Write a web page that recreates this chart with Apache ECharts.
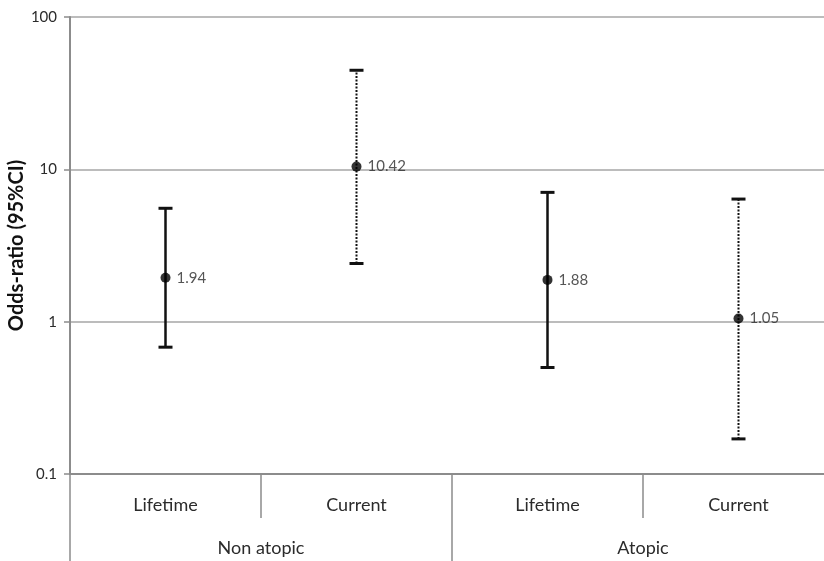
<!DOCTYPE html>
<html>
<head>
<meta charset="utf-8">
<script src="https://cdn.jsdelivr.net/npm/echarts@6/dist/echarts.min.js"></script>
<style>
  html, body { margin: 0; padding: 0; background: #fff; }
  #chart { width: 824px; height: 561px; }
</style>
</head>
<body>
<div id="chart"></div>
<script>
// categories (lower level) and groups (upper level)
const categories = ['Lifetime', 'Current', 'Lifetime', 'Current'];
const groups = ['Non atopic', 'Atopic'];

// odds ratio and 95% CI
const oddsRatio = [1.94, 10.42, 1.88, 1.05];
const ciLower = [0.68, 2.41, 0.50, 0.17];
const ciUpper = [5.55, 44.7, 7.06, 6.38];

const textColor = '#2b2b2b';
const fontFamily = 'Lato, "Open Sans", sans-serif';

const chart = echarts.init(document.getElementById('chart'), null, { renderer: 'canvas' });

// error bars drawn from the CI arrays
function renderErrorBar(params, api) {
  var idx = api.value(0);
  var lo = api.coord([idx, api.value(1)]);
  var hi = api.coord([idx, api.value(2)]);
  var dotted = categories[idx] === 'Current';
  var capHalf = 7;
  var lineStyle = {
    stroke: '#111',
    lineWidth: dotted ? 2 : 2.5,
    lineDash: dotted ? [2, 1.5] : null
  };
  var capStyle = { stroke: '#111', lineWidth: 3 };
  return {
    type: 'group',
    children: [
      { type: 'line', shape: { x1: lo[0], y1: lo[1], x2: hi[0], y2: hi[1] }, style: lineStyle },
      { type: 'line', shape: { x1: hi[0] - capHalf, y1: hi[1], x2: hi[0] + capHalf, y2: hi[1] }, style: capStyle },
      { type: 'line', shape: { x1: lo[0] - capHalf, y1: lo[1], x2: lo[0] + capHalf, y2: lo[1] }, style: capStyle }
    ]
  };
}

const option = {
  animation: false,
  backgroundColor: '#fff',
  // plot runs past the right edge of the picture, like the reference
  grid: { left: 70, right: -10, top: 17, bottom: 87, containLabel: false, outerBoundsMode: 'none' },
  xAxis: [
    {
      type: 'category',
      position: 'bottom',
      data: categories,
      boundaryGap: true,
      axisLine: { show: true, lineStyle: { color: '#8c8c8c', width: 2 } },
      axisTick: { show: true, interval: 0, length: 44, lineStyle: { color: '#8c8c8c', width: 1.5 } },
      axisLabel: { interval: 0, margin: 22, fontSize: 18, color: textColor, fontFamily: fontFamily },
      splitLine: { show: false }
    },
    {
      type: 'category',
      position: 'bottom',
      data: groups,
      boundaryGap: true,
      axisLine: { show: false },
      axisTick: { show: true, interval: 0, length: 87, lineStyle: { color: '#8c8c8c', width: 1.5 } },
      axisLabel: { interval: 0, margin: 65, fontSize: 18, color: textColor, fontFamily: fontFamily },
      splitLine: { show: false }
    }
  ],
  yAxis: {
    type: 'log',
    logBase: 10,
    min: 0.1,
    max: 100,
    name: 'Odds-ratio (95%CI)',
    nameLocation: 'middle',
    nameGap: 43,
    nameMoveOverlap: false,
    nameTextStyle: { fontSize: 20, fontWeight: 'bold', color: '#111', fontFamily: fontFamily },
    axisLine: { show: true, lineStyle: { color: '#8c8c8c', width: 2 } },
    axisTick: { show: true, length: 6, lineStyle: { color: '#8c8c8c', width: 1.5 } },
    axisLabel: {
      margin: 13,
      fontSize: 15,
      color: textColor,
      fontFamily: fontFamily,
      formatter: function (v) { return String(v); }
    },
    splitLine: { show: true, lineStyle: { color: '#a6a6a6', width: 1.5 } }
  },
  series: [
    {
      type: 'custom',
      renderItem: renderErrorBar,
      xAxisIndex: 0,
      encode: { x: 0, y: [1, 2] },
      data: categories.map(function (c, i) { return [i, ciLower[i], ciUpper[i]]; }),
      z: 2
    },
    {
      type: 'scatter',
      xAxisIndex: 0,
      symbol: 'circle',
      symbolSize: 10,
      itemStyle: { color: '#000' },
      data: categories.map(function (c, i) { return [i, oddsRatio[i]]; }),
      label: {
        show: true,
        position: 'right',
        distance: 6,
        fontSize: 15,
        color: textColor,
        fontFamily: fontFamily,
        formatter: function (p) { return p.value[1].toFixed(2); }
      },
      z: 3
    }
  ]
};

chart.setOption(option);
</script>
</body>
</html>
